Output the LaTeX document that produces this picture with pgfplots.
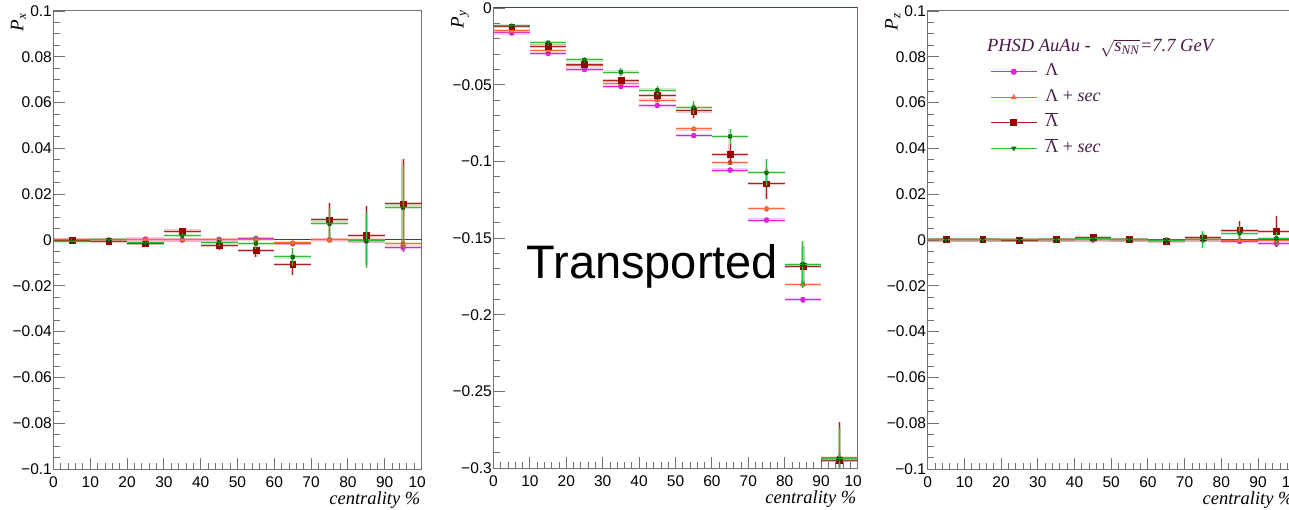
\documentclass[border=0pt]{standalone}
\usepackage{fontspec}
\setmainfont{Liberation Serif}
\newfontfamily\lsans{Liberation Sans}
\usepackage{pgfplots}
\usepackage{pgfplotstable}
\pgfplotsset{compat=1.18}

\definecolor{cLam}{HTML}{DD22DD}
\definecolor{cLamS}{HTML}{FF6A3A}
\definecolor{cALam}{HTML}{990000}
\definecolor{cALamL}{HTML}{AA2222}
\definecolor{cALamS}{HTML}{33BB33}
\definecolor{cALamSM}{HTML}{007A00}
\definecolor{framec}{HTML}{707070}
\definecolor{zline}{HTML}{3333BB}
\definecolor{legtxt}{HTML}{4A1A48}

% ---------------- P_x ----------------
\pgfplotstableread[row sep=\\]{
x y ey \\
5 0.0000 0.0005 \\ 15 0.0000 0.0005 \\ 25 0.0004 0.0006 \\ 35 0.0000 0.0006 \\ 45 0.0003 0.0007 \\
55 0.0007 0.0008 \\ 65 -0.0016 0.0010 \\ 75 0.0001 0.0012 \\ 85 -0.0004 0.0015 \\ 95 -0.0033 0.0020 \\
}\pxA
\pgfplotstableread[row sep=\\]{
x y ey \\
5 0.0000 0.0005 \\ 15 0.0000 0.0005 \\ 25 0.0000 0.0006 \\ 35 0.0000 0.0006 \\ 45 0.0000 0.0007 \\
55 0.0004 0.0008 \\ 65 -0.0013 0.0010 \\ 75 0.0000 0.0012 \\ 85 0.0000 0.0015 \\ 95 -0.0017 0.0020 \\
}\pxB
\pgfplotstableread[row sep=\\]{
x y ey \\
5 -0.0001 0.0010 \\ 15 -0.0007 0.0010 \\ 25 -0.0016 0.0010 \\ 35 0.0039 0.0015 \\ 45 -0.0023 0.0020 \\
55 -0.0046 0.0030 \\ 65 -0.0106 0.0045 \\ 75 0.0088 0.0075 \\ 85 0.0020 0.0130 \\ 95 0.0158 0.0195 \\
}\pxC
\pgfplotstableread[row sep=\\]{
x y ey \\
5 -0.0006 0.0009 \\ 15 0.0000 0.0009 \\ 25 -0.0013 0.0009 \\ 35 0.0019 0.0013 \\ 45 -0.0010 0.0018 \\
55 -0.0014 0.0027 \\ 65 -0.0074 0.0040 \\ 75 0.0071 0.0068 \\ 85 -0.0004 0.0120 \\ 95 0.0141 0.0180 \\
}\pxD

% ---------------- P_y ----------------
\pgfplotstableread[row sep=\\]{
x y ey \\
5 -0.0163 0.0005 \\ 15 -0.0296 0.0006 \\ 25 -0.0401 0.0007 \\ 35 -0.0512 0.0008 \\ 45 -0.0636 0.0009 \\
55 -0.0832 0.0010 \\ 65 -0.1057 0.0012 \\ 75 -0.1383 0.0015 \\ 85 -0.1902 0.0020 \\ 95 -0.2950 0.0030 \\
}\pyA
\pgfplotstableread[row sep=\\]{
x y ey \\
5 -0.0150 0.0008 \\ 15 -0.0279 0.0009 \\ 25 -0.0377 0.0010 \\ 35 -0.0490 0.0011 \\ 45 -0.0601 0.0012 \\
55 -0.0789 0.0014 \\ 65 -0.1009 0.0016 \\ 75 -0.1309 0.0020 \\ 85 -0.1802 0.0025 \\ 95 -0.2932 0.0040 \\
}\pyB
\pgfplotstableread[row sep=\\]{
x y ey \\
5 -0.0122 0.0015 \\ 15 -0.0248 0.0020 \\ 25 -0.0368 0.0020 \\ 35 -0.0473 0.0025 \\ 45 -0.0571 0.0030 \\
55 -0.0671 0.0045 \\ 65 -0.0954 0.0065 \\ 75 -0.1146 0.0100 \\ 85 -0.1684 0.0130 \\ 95 -0.2950 0.0250 \\
}\pyC
\pgfplotstableread[row sep=\\]{
x y ey \\
5 -0.0116 0.0013 \\ 15 -0.0227 0.0018 \\ 25 -0.0338 0.0020 \\ 35 -0.0418 0.0025 \\ 45 -0.0536 0.0030 \\
55 -0.0649 0.0040 \\ 65 -0.0837 0.0050 \\ 75 -0.1074 0.0090 \\ 85 -0.1671 0.0150 \\ 95 -0.2940 0.0200 \\
}\pyD

% ---------------- P_z ----------------
\pgfplotstableread[row sep=\\]{
x y ey \\
5 0.0000 0.0005 \\ 15 0.0000 0.0005 \\ 25 0.0000 0.0005 \\ 35 0.0000 0.0006 \\ 45 0.0000 0.0006 \\
55 0.0000 0.0007 \\ 65 -0.0002 0.0008 \\ 75 0.0000 0.0010 \\ 85 -0.0006 0.0012 \\ 95 -0.0014 0.0015 \\
}\pzA
\pgfplotstableread[row sep=\\]{
x y ey \\
5 0.0000 0.0005 \\ 15 0.0000 0.0005 \\ 25 0.0000 0.0005 \\ 35 0.0000 0.0006 \\ 45 0.0000 0.0006 \\
55 0.0000 0.0007 \\ 65 -0.0002 0.0008 \\ 75 0.0000 0.0010 \\ 85 -0.0003 0.0012 \\ 95 -0.0003 0.0015 \\
}\pzB
\pgfplotstableread[row sep=\\]{
x y ey \\
5 0.0002 0.0005 \\ 15 0.0002 0.0005 \\ 25 -0.0001 0.0006 \\ 35 0.0002 0.0007 \\ 45 0.0012 0.0008 \\
55 0.0002 0.0010 \\ 65 -0.0004 0.0015 \\ 75 0.0010 0.0020 \\ 85 0.0042 0.0040 \\ 95 0.0037 0.0066 \\
}\pzC
\pgfplotstableread[row sep=\\]{
x y ey \\
5 0.0000 0.0005 \\ 15 0.0000 0.0005 \\ 25 0.0000 0.0006 \\ 35 0.0000 0.0007 \\ 45 0.0005 0.0008 \\
55 0.0000 0.0010 \\ 65 -0.0003 0.0015 \\ 75 0.0003 0.0036 \\ 85 0.0030 0.0030 \\ 95 0.0007 0.0030 \\
}\pzD

\pgfplotsset{
  rootax/.style={
    scale only axis,
    xmin=0, xmax=100,
    axis line style={framec, line width=1pt},
    tick style={framec, line width=0.9pt},
    major tick length=11pt, minor tick length=6pt,
    tick align=inside,
    xtick pos=bottom, ytick pos=left,
    xtick={0,10,...,100},
    minor x tick num=4,
    ticklabel style={font=\lsans\fontsize{15.5}{17}\selectfont, inner sep=1.5pt},
    xticklabel style={yshift=-6pt},
    xlabel={centrality \%},
    xlabel style={at={(rel axis cs:1,0)}, anchor=north east, inner sep=0pt,
      yshift=-22pt, xshift=-1pt, font=\itshape\fontsize{18.5}{20}\selectfont},
    clip mode=individual,
  },
  halo/.style={only marks, mark=none, forget plot,
    error bars/.cd, x dir=both, x fixed=5, y dir=both, y explicit,
    error mark=none, error bar style={line width=3.4pt, draw=#1, draw opacity=0.25}},
  ser/.style 2 args={only marks, color=#1, forget plot,
    error bars/.cd, x dir=both, x fixed=5, y dir=both, y explicit,
    error mark=none, error bar style={line width=1pt, draw=#2}},
  mA/.style={mark=*, mark size=2.5pt, mark options={fill=cLam, draw=cLam, line width=0.5pt}},
  mB/.style={mark=triangle*, mark size=2.9pt, mark options={fill=cLamS, draw=cLamS, line width=0.5pt}},
  mC/.style={mark=square*, mark size=2.9pt, mark options={fill=cALam, draw=cALam, line width=0.5pt}},
  mD/.style={mark=triangle*, mark size=2.3pt, mark options={fill=cALamSM, draw=cALamSM, rotate=180, line width=0.5pt}},
}

\newcommand{\allseries}[4]{%
  \addplot[zline, line width=1pt, forget plot] coordinates {(0,0) (100,0)};
  \addplot[halo=cLam] table[x=x,y=y,y error=ey] {#1};
  \addplot[mA, ser={cLam}{cLam}] table[x=x,y=y,y error=ey] {#1};
  \addplot[halo=cLamS] table[x=x,y=y,y error=ey] {#2};
  \addplot[mB, ser={cLamS}{cLamS}] table[x=x,y=y,y error=ey] {#2};
  \addplot[halo=cALamL] table[x=x,y=y,y error=ey] {#3};
  \addplot[mC, ser={cALam}{cALamL}] table[x=x,y=y,y error=ey] {#3};
  \addplot[halo=cALamS] table[x=x,y=y,y error=ey] {#4};
  \addplot[mD, ser={cALamSM}{cALamS}] table[x=x,y=y,y error=ey] {#4};
}

\newcommand{\ylab}[1]{\node[rotate=90, anchor=base east, inner sep=0pt,
  font=\fontsize{19}{21}\selectfont] at ([xshift=-30pt,yshift=-2pt]rel axis cs:0,1)
  {\textit{P}\textsubscript{\textit{#1}}};}

\begin{document}
\begin{tikzpicture}
\useasboundingbox (0,0) rectangle (1289pt,509pt);
\clip (0,0) rectangle (1289pt,509pt);

% ----- left: P_x -----
\begin{axis}[rootax, at={(53.5pt,40pt)}, anchor=south west,
  width=368pt, height=458pt,
  ymin=-0.1, ymax=0.1,
  ytick={-0.1,-0.08,-0.06,-0.04,-0.02,0,0.02,0.04,0.06,0.08,0.1},
  yticklabels={−0.1,−0.08,−0.06,−0.04,−0.02,0,0.02,0.04,0.06,0.08,0.1},
  minor y tick num=3,
  xticklabels={0,10,20,30,40,50,60,70,80,90,\rlap{10}\phantom{100}},
]
\allseries{\pxA}{\pxB}{\pxC}{\pxD}
\ylab{x}
\end{axis}

% ----- middle: P_y -----
\begin{axis}[rootax, at={(493.5pt,41pt)}, anchor=south west,
  width=364pt, height=460pt,
  ymin=-0.3, ymax=0,
  ytick={-0.3,-0.25,-0.2,-0.15,-0.1,-0.05,0},
  yticklabels={−0.3,−0.25,−0.2,−0.15,−0.1,−0.05,0},
  minor y tick num=4,
  xticklabels={0,10,20,30,40,50,60,70,80,90,\rlap{10}\phantom{100}},
]
\allseries{\pyA}{\pyB}{\pyC}{\pyD}
\ylab{y}
\node[anchor=base west, inner sep=0pt, font=\lsans\fontsize{47}{50}\selectfont]
  at (axis cs:9,-0.1765) {Transported};
\end{axis}

% ----- right: P_z -----
\begin{axis}[rootax, at={(927.7pt,40pt)}, anchor=south west,
  width=367pt, height=458pt,
  ymin=-0.1, ymax=0.1,
  ytick={-0.1,-0.08,-0.06,-0.04,-0.02,0,0.02,0.04,0.06,0.08,0.1},
  yticklabels={−0.1,−0.08,−0.06,−0.04,−0.02,0,0.02,0.04,0.06,0.08,0.1},
  minor y tick num=3,
  xticklabels={0,10,20,30,40,50,60,70,80,90,100},
  legend image code/.code={\draw[#1, mark repeat=2, mark phase=2]
    plot coordinates {(0pt,0pt) (23pt,0pt) (46pt,0pt)};},
  legend cell align=left,
  legend style={at={(axis cs:17,0.0775)}, anchor=north west, draw=none, fill=none,
    inner sep=0pt, row sep=7.5pt,
    font=\fontsize{18}{20}\selectfont, text=legtxt,
    nodes={inner sep=1pt, text height=12pt, text depth=4pt},
    /tikz/every even column/.append style={column sep=0pt}},
]
\allseries{\pzA}{\pzB}{\pzC}{\pzD}
\addlegendimage{cLam, line width=1pt, mark=*, mark size=2.6pt, mark options={fill=cLam}}
\addlegendentry{\hspace{7pt}Λ}
\addlegendimage{cLamS, line width=1pt, mark=triangle*, mark size=2.4pt, mark options={fill=cLamS}}
\addlegendentry{\hspace{7pt}Λ + \textit{sec}}
\addlegendimage{cALamL, line width=1pt, mark=square*, mark size=2.9pt, mark options={fill=cALam, draw=cALam}}
\addlegendentry{\hspace{7pt}$\overline{\mbox{Λ}}$}
\addlegendimage{cALamS, line width=1pt, mark=triangle*, mark size=2.2pt, mark options={fill=cALamSM, draw=cALamSM, rotate=180}}
\addlegendentry{\hspace{7pt}$\overline{\mbox{Λ}}$ + \textit{sec}}
\ylab{z}
\node[anchor=base west, inner sep=0pt, text=legtxt, font=\fontsize{18.5}{20}\selectfont]
  at (axis cs:16.1,0.0821)
  {\textit{PHSD AuAu -}\ \ $\sqrt{\mbox{\textit{s}\textsubscript{\textit{NN}}}}$\textit{=7.7 GeV}};
\end{axis}
\end{tikzpicture}
\end{document}
